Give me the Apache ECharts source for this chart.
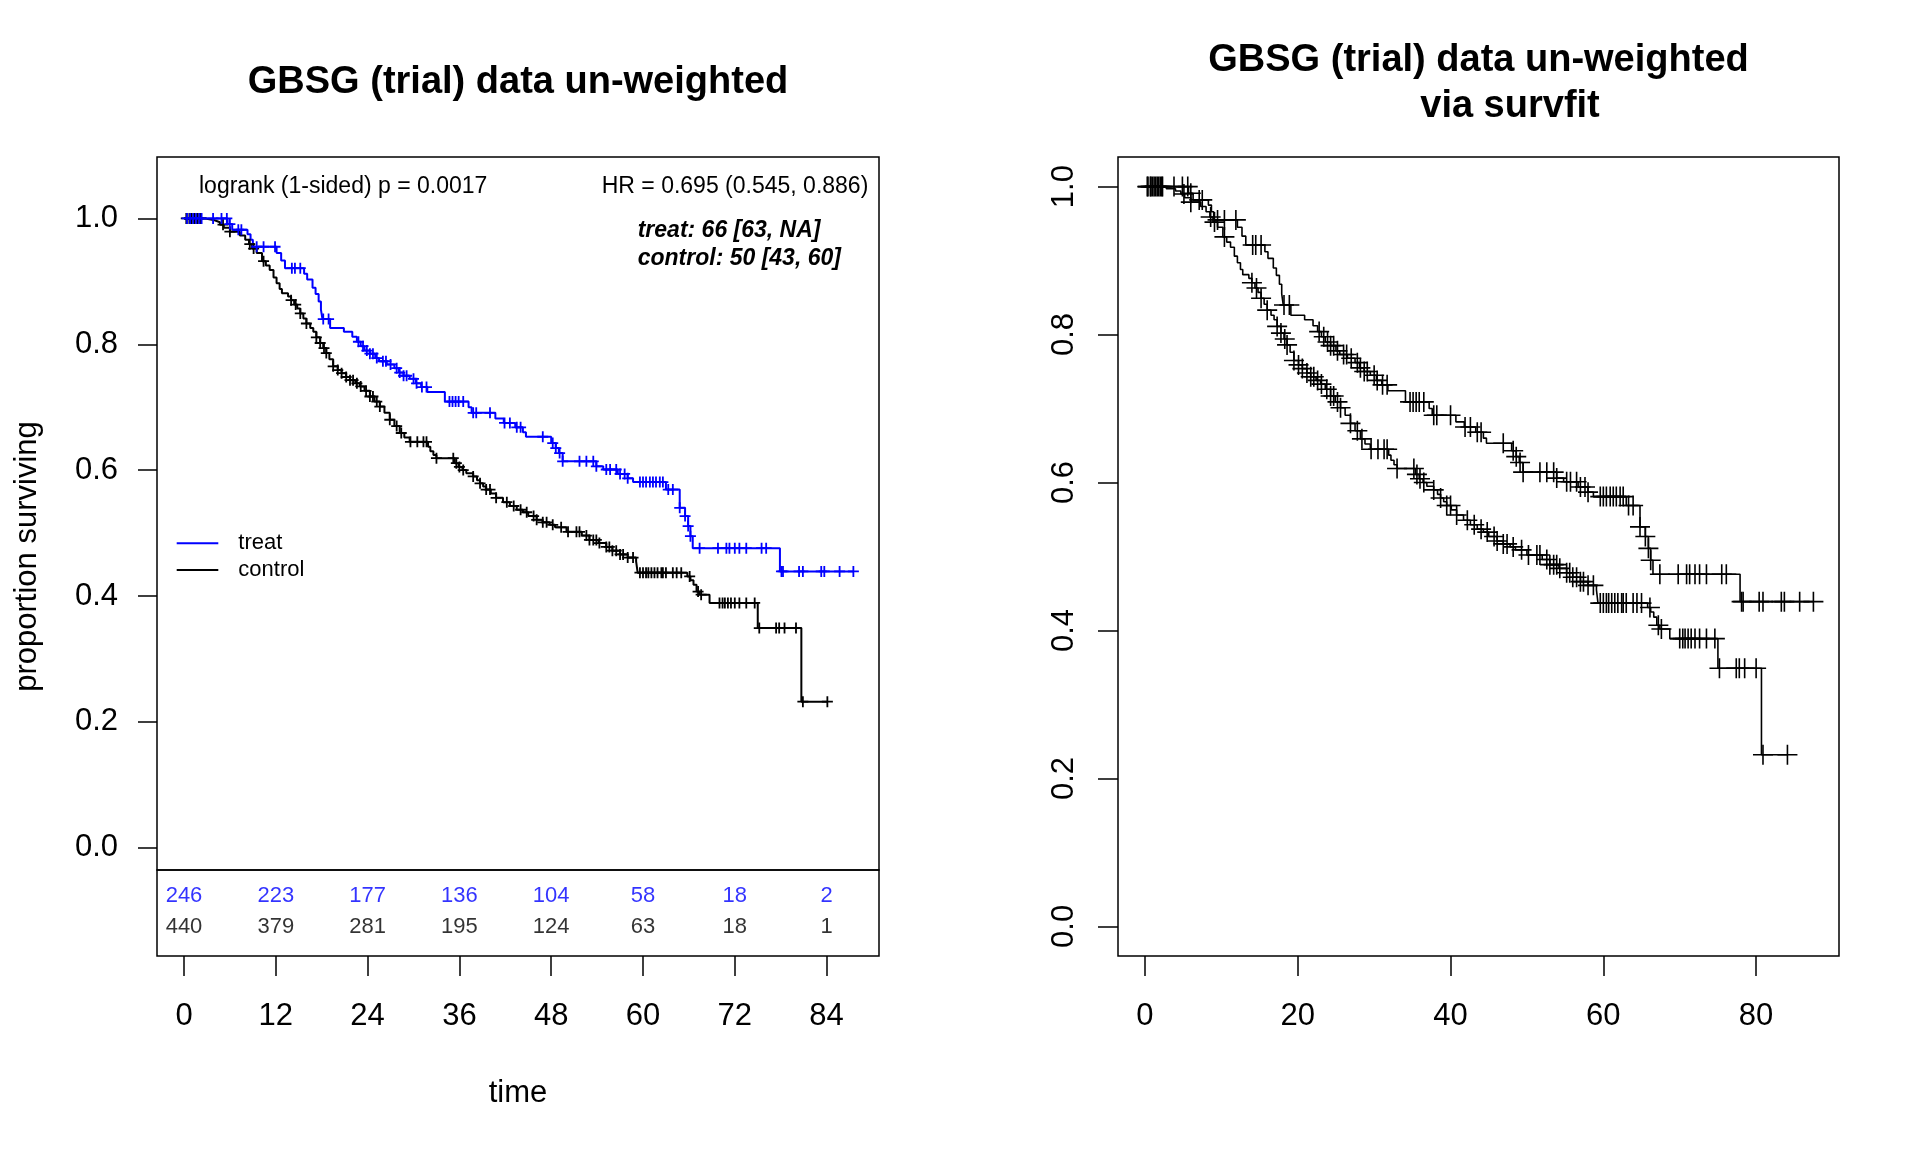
<!DOCTYPE html>
<html><head><meta charset="utf-8">
<script src="https://cdn.jsdelivr.net/npm/echarts@6/dist/echarts.min.js"></script>
<style>html,body{margin:0;padding:0;background:#fff}#c{width:1920px;height:1152px}</style>
</head><body><div id="c"></div>
<script>
// ---------- data ----------
const treatTimes = [0,5.7,6.3,8.3,8.7,9.0,12.1,12.7,13.2,15.7,16.1,16.8,17.2,17.6,17.9,18.1,19.1,20.9,22.0,22.6,23.1,23.6,24.3,25.0,25.5,26.5,27.5,28.1,28.7,29.5,30.3,31.0,31.8,34.1,37.2,37.6,40.7,41.8,43.3,44.3,44.7,48.0,48.6,49.0,49.5,53.9,54.8,56.7,58.0,58.7,63.0,64.8,65.5,65.9,66.2,66.5,77.9,87.5];
const treatSurv  = [1.000,0.991,0.982,0.975,0.966,0.955,0.945,0.933,0.921,0.912,0.903,0.890,0.880,0.868,0.855,0.840,0.826,0.820,0.812,0.804,0.797,0.790,0.785,0.778,0.773,0.768,0.762,0.755,0.750,0.745,0.738,0.732,0.724,0.709,0.700,0.691,0.682,0.675,0.668,0.660,0.653,0.643,0.635,0.627,0.614,0.606,0.601,0.594,0.587,0.581,0.569,0.540,0.527,0.511,0.495,0.476,0.439,0.439];
const controlTimes = [0,2.8,4.0,4.7,5.2,6.0,7.3,8.0,8.5,8.9,9.5,10.2,10.7,11.2,11.7,12.1,12.5,12.8,13.6,14.0,14.4,14.8,15.2,15.6,16.0,16.5,16.9,17.3,17.8,18.2,18.6,19.0,19.5,20.1,20.6,21.2,21.7,22.4,23.0,23.6,24.3,24.9,25.6,26.2,26.9,27.5,28.2,28.8,29.5,31.9,32.2,32.6,33.0,35.4,35.9,36.4,36.9,37.8,38.3,38.7,39.1,39.5,40.1,40.8,41.7,42.6,43.5,44.3,45.0,46.1,46.9,47.8,48.5,50.0,52.0,53.0,54.2,55.2,56.0,57.0,58.0,59.1,59.3,65.8,66.2,66.6,67.0,67.4,68.7,75.0,80.7,84.1];
const controlSurv  = [1.000,0.997,0.994,0.990,0.985,0.979,0.973,0.966,0.959,0.952,0.945,0.932,0.925,0.918,0.906,0.897,0.888,0.881,0.876,0.870,0.863,0.857,0.849,0.841,0.833,0.826,0.820,0.811,0.802,0.794,0.786,0.776,0.765,0.759,0.754,0.748,0.743,0.738,0.733,0.726,0.717,0.709,0.701,0.691,0.680,0.670,0.659,0.652,0.645,0.637,0.630,0.624,0.619,0.611,0.605,0.600,0.595,0.590,0.584,0.579,0.574,0.569,0.563,0.556,0.549,0.543,0.537,0.533,0.527,0.521,0.517,0.513,0.509,0.502,0.496,0.489,0.484,0.478,0.472,0.466,0.461,0.455,0.437,0.431,0.425,0.418,0.407,0.402,0.389,0.349,0.232,0.232];
const treatCensor = [0.4,0.8,1.2,1.6,2.0,2.3,3.8,4.9,5.6,6.0,7.1,7.5,9.5,10.4,11.9,14.1,14.5,15.2,18.2,18.9,22.8,23.4,23.9,24.3,24.7,25.2,26.0,26.4,27.0,27.8,28.2,28.7,29.1,30.0,30.4,31.1,31.7,34.7,35.1,35.5,35.9,36.5,37.8,38.2,40.0,41.9,42.6,43.5,44.0,46.9,48.2,48.6,49.1,49.5,51.7,52.6,53.5,53.9,55.2,55.7,56.5,57.0,57.6,58.0,59.6,60.0,60.4,60.9,61.3,61.7,62.2,62.6,63.3,63.9,64.8,65.5,65.9,66.2,67.4,69.8,70.9,71.3,72.0,72.6,73.5,75.5,76.1,78.1,78.3,80.4,80.9,83.3,83.7,85.7,87.5];
const controlCensor = [0.3,0.7,1.0,1.4,1.8,2.2,5.1,6.0,8.6,9.1,10.4,14.0,14.6,15.2,16.0,17.3,17.8,18.3,18.6,19.5,20.1,20.6,21.2,21.7,22.1,22.6,23.1,23.8,24.3,24.7,25.2,25.6,26.9,27.8,28.4,29.6,30.5,31.3,31.7,33.0,35.2,35.6,36.0,36.5,37.8,38.7,39.5,40.0,40.8,42.2,43.1,44.0,44.8,45.7,46.1,46.9,47.4,48.2,49.3,50.2,51.3,51.7,52.6,53.0,53.5,53.9,54.3,55.2,55.6,56.0,56.5,57.0,57.4,58.0,58.7,59.6,60.0,60.4,60.7,61.1,61.5,61.9,62.4,62.6,63.0,63.9,64.4,65.0,66.1,67.2,67.6,70.0,70.4,70.7,71.1,71.5,72.0,72.6,73.5,74.6,75.2,77.4,77.8,78.5,80.0,80.9,84.1];
const riskTimes = [0,12,24,36,48,60,72,84];
const treatRisk = [246,223,177,136,104,58,18,2];
const controlRisk = [440,379,281,195,124,63,18,1];
const leftXTicks = [0,12,24,36,48,60,72,84];
const rightXTicks = [0,20,40,60,80];
const yTicks = [0,0.2,0.4,0.6,0.8,1.0];
const titleLeft = 'GBSG (trial) data un-weighted';
const titleRight1 = 'GBSG (trial) data un-weighted';
const titleRight2 = 'via survfit';

// ---------- helpers ----------
const FONT = '"Liberation Sans", Arial, Helvetica, sans-serif';
const BLUE = '#0000FF';
function steps(times, surv){ return times.map((t,i)=>[t, surv[i]]); }
function survAt(times, surv, t){ let s = surv[0]; for(let i=0;i<times.length;i++){ if(times[i] <= t) s = surv[i]; else break; } return s; }
function censorPts(c, times, surv){ return c.map(t=>[t, survAt(times, surv, t)]); }
const PLUS = 'path://M0,5L10,5M5,0L5,10';

function lineSeries(x, y, data, color, w){
  return {type:'line', xAxisIndex:x, yAxisIndex:y, data, step:'end', showSymbol:false, symbol:'none',
    lineStyle:{color, width:w}, itemStyle:{color}, silent:true, z:3};
}
function markSeries(x, y, data, color, size, w){
  return {type:'scatter', xAxisIndex:x, yAxisIndex:y, data, symbol:PLUS, symbolSize:size,
    itemStyle:{color:'rgba(0,0,0,0)', borderColor:color, borderWidth:w, opacity:1}, silent:true, z:4};
}
const axisTxt = {fontSize:31, color:'#000', fontFamily:FONT};
const tickLine = {color:'#000', width:1.5};
const noLine = {show:false, onZero:false};
const titleTxt = {fontSize:38, fontWeight:'bold', fontFamily:FONT, color:'#000'};

const option = {
  animation:false,
  backgroundColor:'#fff',
  title:[
    {text:titleLeft, left:518, top:64, textAlign:'center', padding:0, textStyle:titleTxt},
    {text:titleRight1, left:1478.5, top:42, textAlign:'center', padding:0, textStyle:titleTxt},
    {text:titleRight2, left:1510, top:87.5, textAlign:'center', padding:0, textStyle:titleTxt}
  ],
  grid:[
    {left:157, top:157, width:722, height:713, show:true, borderColor:'#000', borderWidth:1.5},
    {left:157, top:870, width:722, height:86, show:true, borderColor:'#000', borderWidth:1.5},
    {left:1118, top:157, width:721, height:799, show:true, borderColor:'#000', borderWidth:1.5}
  ],
  xAxis:[
    {gridIndex:0, type:'value', min:-3.53, max:90.85, show:false},
    {gridIndex:1, type:'value', min:-3.53, max:90.85, axisLine:noLine, splitLine:{show:false},
     axisTick:{show:true, length:20, customValues:leftXTicks, lineStyle:tickLine},
     axisLabel:Object.assign({customValues:leftXTicks, margin:45}, axisTxt),
     name:'time', nameLocation:'middle', nameGap:122, nameTextStyle:axisTxt},
    {gridIndex:2, type:'value', min:-3.53, max:90.85, axisLine:noLine, splitLine:{show:false},
     axisTick:{show:true, length:20, customValues:rightXTicks, lineStyle:tickLine},
     axisLabel:Object.assign({customValues:rightXTicks, margin:45}, axisTxt)}
  ],
  yAxis:[
    {gridIndex:0, type:'value', min:-0.0355, max:1.0976, axisLine:noLine, splitLine:{show:false},
     axisTick:{show:true, length:19, customValues:yTicks, lineStyle:tickLine},
     axisLabel:Object.assign({customValues:yTicks, margin:39, formatter:v=>v.toFixed(1)}, axisTxt)},
    {gridIndex:1, type:'value', min:-0.935, max:1.839, show:false},
    {gridIndex:2, type:'value', min:-0.04, max:1.04, axisLine:noLine, splitLine:{show:false},
     axisTick:{show:true, length:20, customValues:yTicks, lineStyle:tickLine},
     axisLabel:Object.assign({customValues:yTicks, margin:38, rotate:90, formatter:v=>v.toFixed(1)}, axisTxt)}
  ],
  series:[
    lineSeries(0,0, steps(controlTimes, controlSurv), '#000', 2),
    lineSeries(0,0, steps(treatTimes, treatSurv), BLUE, 2),
    markSeries(0,0, censorPts(controlCensor, controlTimes, controlSurv), '#000', 11, 1.8),
    markSeries(0,0, censorPts(treatCensor, treatTimes, treatSurv), BLUE, 11, 1.8),
    {type:'scatter', xAxisIndex:1, yAxisIndex:1, symbolSize:1, itemStyle:{color:'rgba(0,0,0,0)'}, silent:true,
     data:riskTimes.map((t,i)=>[t,1,treatRisk[i]]),
     label:{show:true, position:'inside', formatter:p=>String(p.value[2]), color:BLUE, fontSize:22, fontFamily:FONT}},
    {type:'scatter', xAxisIndex:1, yAxisIndex:1, symbolSize:1, itemStyle:{color:'rgba(0,0,0,0)'}, silent:true,
     data:riskTimes.map((t,i)=>[t,0,controlRisk[i]]),
     label:{show:true, position:'inside', formatter:p=>String(p.value[2]), color:'#000', fontSize:22, fontFamily:FONT}},
    lineSeries(2,2, steps(controlTimes, controlSurv), '#000', 1.6),
    lineSeries(2,2, steps(treatTimes, treatSurv), '#000', 1.6),
    markSeries(2,2, censorPts(controlCensor, controlTimes, controlSurv), '#000', 20, 1.6),
    markSeries(2,2, censorPts(treatCensor, treatTimes, treatSurv), '#000', 20, 1.6)
  ],
  graphic:[
    {type:'text', x:27, y:556.5, rotation:Math.PI/2, style:{text:'proportion surviving', align:'center', verticalAlign:'middle', font:'31px '+FONT, fill:'#000'}},
    {type:'text', x:199, y:186.7, style:{text:'logrank (1-sided) p = 0.0017', align:'left', verticalAlign:'middle', font:'23px '+FONT, fill:'#000'}},
    {type:'text', x:868.3, y:186.7, style:{text:'HR = 0.695 (0.545, 0.886)', align:'right', verticalAlign:'middle', font:'23px '+FONT, fill:'#000'}},
    {type:'text', x:637.7, y:230.7, style:{text:'treat: 66 [63, NA]', align:'left', verticalAlign:'middle', font:'italic bold 23px '+FONT, fill:'#000'}},
    {type:'text', x:637.7, y:258.3, style:{text:'control: 50 [43, 60]', align:'left', verticalAlign:'middle', font:'italic bold 23px '+FONT, fill:'#000'}},
    {type:'line', shape:{x1:176.7, y1:543.3, x2:218.3, y2:543.3}, style:{stroke:BLUE, lineWidth:2}},
    {type:'line', shape:{x1:176.7, y1:570, x2:218.3, y2:570}, style:{stroke:'#000', lineWidth:2}},
    {type:'text', x:238.3, y:543.3, style:{text:'treat', align:'left', verticalAlign:'middle', font:'22px '+FONT, fill:'#000'}},
    {type:'text', x:238.3, y:570, style:{text:'control', align:'left', verticalAlign:'middle', font:'22px '+FONT, fill:'#000'}}
  ]
};
const chart = echarts.init(document.getElementById('c'));
chart.setOption(option);
</script>
</body></html>
